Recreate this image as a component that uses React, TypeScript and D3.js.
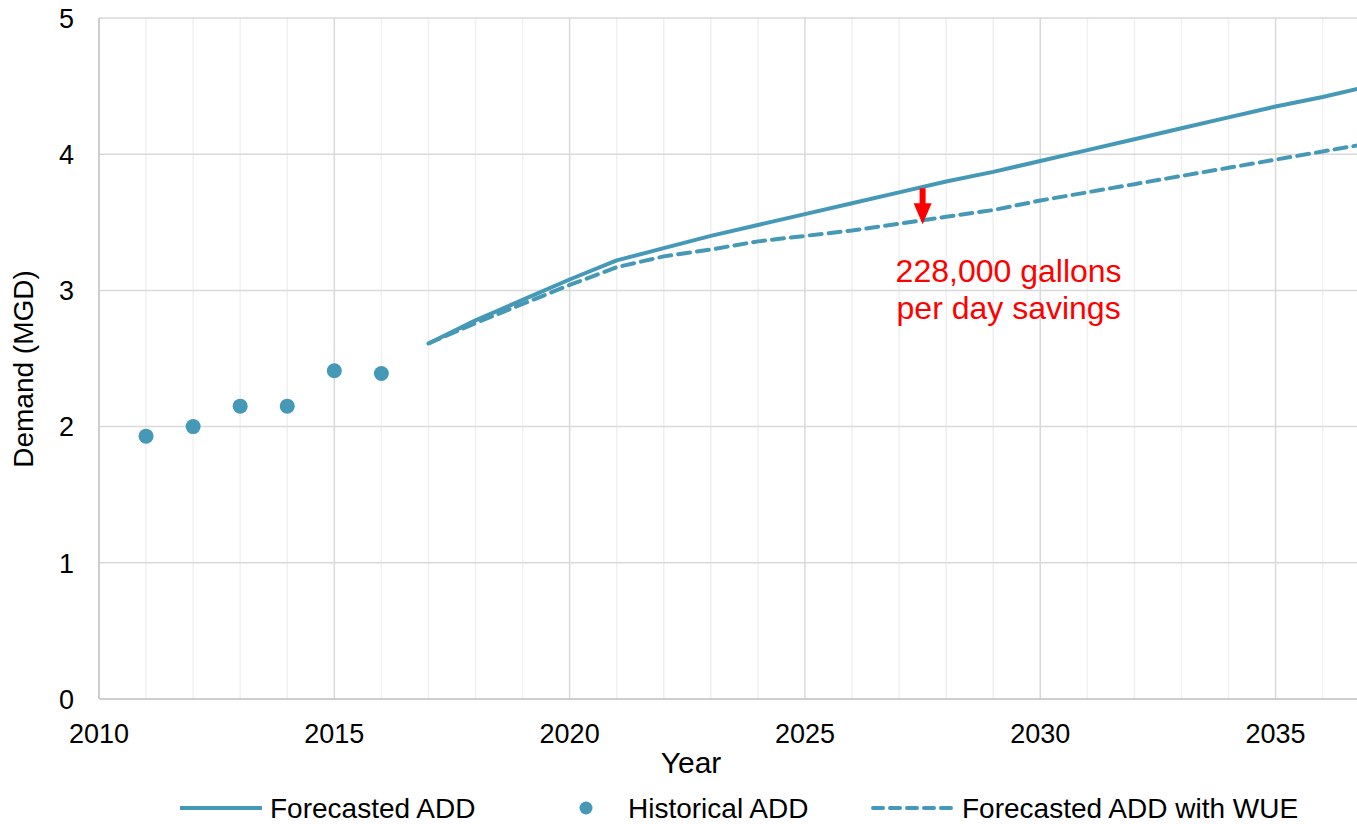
import React from "react"
import * as d3 from "d3"

// Historical average daily demand (MGD)
const histYears = [2011, 2012, 2013, 2014, 2015, 2016]
const histValues = [1.93, 2.0, 2.15, 2.15, 2.41, 2.39]

// Forecasts
const forecastYears = [
  2017, 2018, 2019, 2020, 2021, 2022, 2023, 2024, 2025, 2026, 2027, 2028, 2029, 2030, 2031, 2032, 2033, 2034, 2035,
  2036, 2037,
]
const forecastValues = [
  2.61, 2.78, 2.93, 3.08, 3.22, 3.31, 3.4, 3.48, 3.56, 3.64, 3.72, 3.8, 3.87, 3.95, 4.03, 4.11, 4.19, 4.27, 4.35, 4.42,
  4.5,
]
const wueValues = [
  2.61, 2.76, 2.9, 3.04, 3.17, 3.25, 3.3, 3.36, 3.4, 3.44, 3.49, 3.54, 3.59, 3.66, 3.72, 3.78, 3.84, 3.9, 3.96, 4.02,
  4.08,
]

const xTicks = [2010, 2015, 2020, 2025, 2030, 2035]
const yTicks = [0, 1, 2, 3, 4, 5]

const annotationYear = 2027.5
const annotationLines = ["228,000 gallons", "per day savings"]

const COLOR = "#4599b7"
const FONT = "'Liberation Sans', Arial, sans-serif"

export default function App() {
  const width = 1357
  const height = 824
  const margin = { top: 18, right: 0, bottom: 125, left: 99 }
  const innerW = width - margin.left - margin.right
  const innerH = height - margin.top - margin.bottom

  const x = d3.scaleLinear().domain([2010, 2036.73]).range([0, innerW])
  const y = d3.scaleLinear().domain([0, 5]).range([innerH, 0])

  const minorYears = d3.range(2011, 2037).filter((yr) => yr % 5 !== 0)

  const line = d3
    .line<number>()
    .x((_, i) => x(forecastYears[i]))
    .y((d) => y(d))

  // annotation positions derived from data
  const annTop = y(3.75)
  const annBottom = y(3.5)
  const ax = x(annotationYear)

  return (
    <svg width={width} height={height} style={{ display: "block", position: "absolute", left: 0, top: 0 }}>
      <defs>
        <clipPath id="plot-clip">
          <rect x={0} y={-10} width={innerW} height={innerH + 10} />
        </clipPath>
      </defs>
      <g transform={`translate(${margin.left},${margin.top})`} fontFamily={FONT}>
        {/* minor vertical grid */}
        {minorYears.map((yr) => (
          <line key={"m" + yr} x1={x(yr)} x2={x(yr)} y1={0} y2={innerH} stroke="#f0f0f0" strokeWidth={1.5} />
        ))}
        {/* major vertical grid */}
        {xTicks.slice(1).map((yr) => (
          <line key={"M" + yr} x1={x(yr)} x2={x(yr)} y1={0} y2={innerH} stroke="#d9d9d9" strokeWidth={1.5} />
        ))}
        {/* horizontal grid */}
        {yTicks.slice(1).map((v) => (
          <line key={"h" + v} x1={0} x2={innerW} y1={y(v)} y2={y(v)} stroke="#d9d9d9" strokeWidth={1.5} />
        ))}
        {/* axes */}
        <line x1={0} x2={innerW} y1={innerH} y2={innerH} stroke="#bfbfbf" strokeWidth={1.5} />
        <line x1={0} x2={0} y1={0} y2={innerH} stroke="#bfbfbf" strokeWidth={1.5} />

        {/* y tick labels */}
        {yTicks.map((v) => (
          <text key={"yt" + v} x={-25} y={y(v)} dy="0.36em" textAnchor="end" fontSize={27} fill="#000">
            {v}
          </text>
        ))}
        {/* x tick labels */}
        {xTicks.map((yr) => (
          <text key={"xt" + yr} x={x(yr)} y={innerH + 44} textAnchor="middle" fontSize={27} fill="#000">
            {yr}
          </text>
        ))}

        {/* axis titles */}
        <text x={592} y={innerH + 74} textAnchor="middle" fontSize={30} fill="#000">
          Year
        </text>
        <text transform={`translate(${-66},${351}) rotate(-90)`} textAnchor="middle" fontSize={28} fill="#000">
          Demand (MGD)
        </text>

        <g clipPath="url(#plot-clip)">
          <path d={line(forecastValues) ?? ""} fill="none" stroke={COLOR} strokeWidth={4} strokeLinejoin="round" />
          <path
            d={line(wueValues) ?? ""}
            fill="none"
            stroke={COLOR}
            strokeWidth={4}
            strokeDasharray="12 7"
            strokeLinecap="round"
          />
        </g>

        {histYears.map((yr, i) => (
          <circle key={"p" + yr} cx={x(yr)} cy={y(histValues[i])} r={7.5} fill={COLOR} />
        ))}

        {/* annotation arrow */}
        <rect x={ax - 3} y={annTop} width={6} height={annBottom - annTop - 18} fill="#ff0000" />
        <path
          d={`M${ax - 9},${annBottom - 19} L${ax + 9},${annBottom - 19} L${ax},${annBottom + 2} Z`}
          fill="#ff0000"
        />
        {annotationLines.map((t, i) => (
          <text key={t} x={ax + 86} y={annBottom + 60 + i * 37} textAnchor="middle" fontSize={32} fill="#ff0000">
            {t}
          </text>
        ))}
      </g>

      {/* legend */}
      <g fontFamily={FONT} fontSize={28} fill="#000">
        <line x1={180} x2={262} y1={808} y2={808} stroke={COLOR} strokeWidth={4} />
        <text x={270} y={808} dy="0.35em">
          Forecasted ADD
        </text>
        <circle cx={586} cy={808} r={6.5} fill={COLOR} />
        <text x={628} y={808} dy="0.35em">
          Historical ADD
        </text>
        <line
          x1={873}
          x2={953}
          y1={808}
          y2={808}
          stroke={COLOR}
          strokeWidth={4}
          strokeDasharray="10 7"
          strokeLinecap="round"
        />
        <text x={962} y={808} dy="0.35em">
          Forecasted ADD with WUE
        </text>
      </g>
    </svg>
  )
}
